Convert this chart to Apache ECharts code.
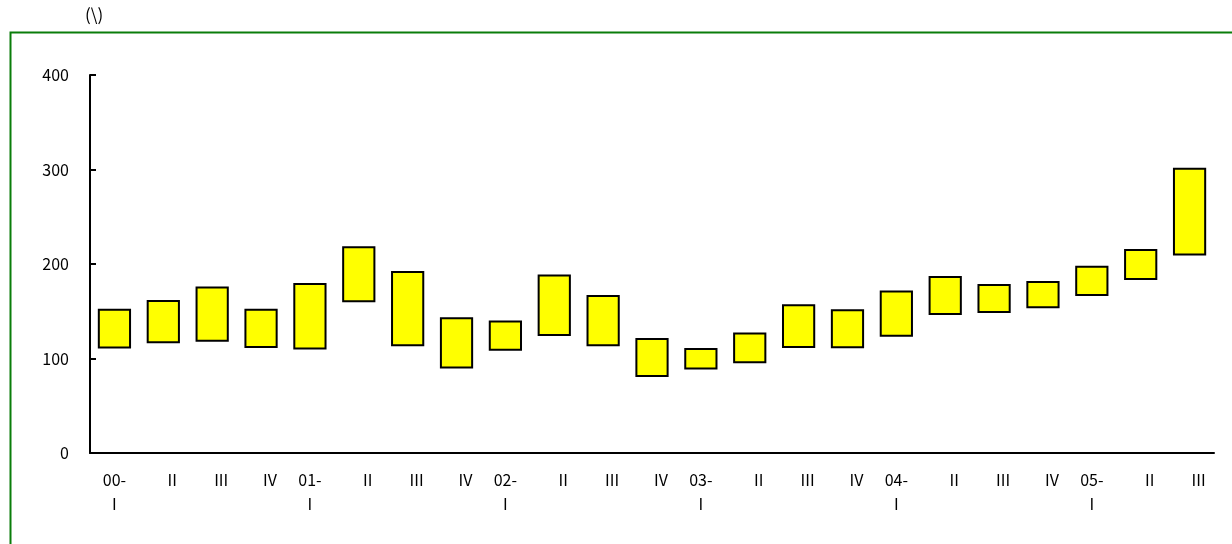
<!DOCTYPE html>
<html>
<head>
<meta charset="utf-8">
<script src="https://cdn.jsdelivr.net/npm/echarts@6/dist/echarts.min.js"></script>
<style>
html,body{margin:0;padding:0;background:#fff;}
#chart{width:1232px;height:544px;}
</style>
</head>
<body>
<div id="chart"></div>
<script>
const categories = ['00-\nI','II','III','IV','01-\nI','II','III','IV','02-\nI','II','III','IV','03-\nI','II','III','IV','04-\nI','II','III','IV','05-\nI','II','III'];
const lows  = [110.6,116.2,117.6,111.2,109.5,159.4,113.0,89.4,108.1,123.9,113.0,80.3,88.4,95.0,111.2,110.9,122.9,146.1,148.2,153.1,166.1,183.0,209.0];
const highs = [152.7,161.9,176.3,152.7,179.8,218.9,192.5,143.6,140.1,188.9,167.2,121.8,111.2,127.4,157.3,152.0,172.0,187.2,178.8,181.9,198.1,216.0,301.8];
const yTicks = [0,100,200,300,400];
const unitLabel = '(\\)';

const spans = highs.map((h, i) => +(h - lows[i]).toFixed(1));
const font = "'Noto Sans CJK JP', 'DejaVu Sans', sans-serif";

const chart = echarts.init(document.getElementById('chart'), null, {renderer: 'canvas'});
chart.setOption({
  backgroundColor: '#ffffff',
  animation: false,
  graphic: [
    {type: 'rect', left: 8, top: 30, shape: {width: 1240, height: 530},
     style: {fill: 'none', stroke: '#0a7d0a', lineWidth: 2}, silent: true, z: 0},
    {type: 'text', left: 85, top: 6,
     style: {text: unitLabel, fill: '#000', font: '17px ' + font}, z: 10}
  ],
  grid: {left: 90, right: 18, top: 75, bottom: 91, containLabel: false},
  xAxis: {
    type: 'category',
    data: categories,
    axisLine: {lineStyle: {color: '#000', width: 2}},
    axisTick: {inside: true, length: 6, lineStyle: {color: '#000', width: 2}},
    axisLabel: {
      color: '#000', fontSize: 16, fontFamily: font, lineHeight: 24, margin: 15, interval: 0,
      formatter: v => v.indexOf('\n') >= 0 ? v : '{s|' + v + '}',
      rich: {s: {fontSize: 16, fontFamily: font, color: '#000', lineHeight: 24, padding: [0, 0, 0, 18]}}
    }
  },
  yAxis: {
    type: 'value',
    min: yTicks[0],
    max: yTicks[yTicks.length - 1],
    interval: 100,
    splitLine: {show: false},
    axisLine: {show: true, lineStyle: {color: '#000', width: 2}},
    axisTick: {show: true, inside: true, length: 6, lineStyle: {color: '#000', width: 2}},
    axisLabel: {color: '#000', fontSize: 16, fontFamily: font, margin: 21}
  },
  series: [
    {type: 'bar', stack: 'range', data: lows, barWidth: '68%',
     itemStyle: {color: 'transparent', borderWidth: 0}, silent: true},
    {type: 'bar', stack: 'range', data: spans, barWidth: '68%',
     itemStyle: {color: '#ffff00', borderColor: '#000', borderWidth: 2}}
  ]
});
</script>
</body>
</html>
